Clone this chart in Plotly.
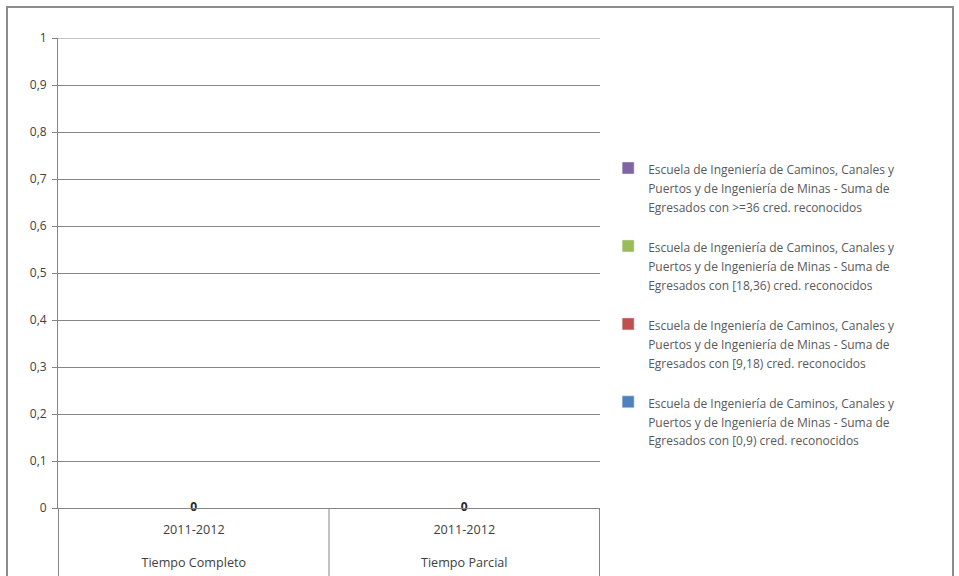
import plotly.graph_objects as go

# ---- data ----
period_labels = ["2011-2012", "2011-2012"]
regime_labels = ["Tiempo Completo", "Tiempo Parcial"]

series_names = [
    "Escuela de Ingeniería de Caminos, Canales y<br>Puertos y de Ingeniería de Minas - Suma de<br>Egresados con [0,9) cred. reconocidos",
    "Escuela de Ingeniería de Caminos, Canales y<br>Puertos y de Ingeniería de Minas - Suma de<br>Egresados con [9,18) cred. reconocidos",
    "Escuela de Ingeniería de Caminos, Canales y<br>Puertos y de Ingeniería de Minas - Suma de<br>Egresados con [18,36) cred. reconocidos",
    "Escuela de Ingeniería de Caminos, Canales y<br>Puertos y de Ingeniería de Minas - Suma de<br>Egresados con >=36 cred. reconocidos",
]
values_0_9 = [0, 0]
values_9_18 = [0, 0]
values_18_36 = [0, 0]
values_36_plus = [0, 0]
series_values = [values_0_9, values_9_18, values_18_36, values_36_plus]
series_colors = ["#4F81BD", "#C0504D", "#9BBB59", "#8064A2"]

totals = [sum(v) for v in zip(*series_values)]
categories = [f"{r} {p}" for r, p in zip(regime_labels, period_labels)]
tick_text = [f"{p}<br><br>{r}" for p, r in zip(period_labels, regime_labels)]

GRID = "#868686"
TEXT = "#404040"
FONT = "Open Sans"

fig = go.Figure()
n = len(series_names)
for i, (name, vals, col) in enumerate(zip(series_names, series_values, series_colors)):
    lines = name.split("<br>")
    styled = "<br>".join(f'<span style="font-size:12px">{l}</span>' for l in lines)
    fig.add_trace(go.Bar(
        x=categories, y=vals, name=styled, marker_color=col,
        legendgroup=f"g{i}", legendrank=n - i,
    ))

fig.add_trace(go.Scatter(
    x=categories, y=totals, mode="text", text=[f"<b>{t}</b>" for t in totals],
    textposition="middle center",
    textfont=dict(family=FONT, size=12, color="#262626"),
    showlegend=False, hoverinfo="skip", cliponaxis=False,
))

fig.update_layout(
    width=959, height=576,
    barmode="stack",
    separators=", ",
    paper_bgcolor="white", plot_bgcolor="white",
    margin=dict(l=58, r=359, t=38, b=68, autoexpand=False),
    font=dict(family=FONT, size=12, color=TEXT),
    showlegend=True,
    legend=dict(
        x=1.015, y=0.434, xanchor="left", yanchor="middle",
        traceorder="grouped", tracegroupgap=18, valign="top",
        font=dict(family=FONT, size=14.6, color="#595959"),
        itemwidth=30,
    ),
)

fig.update_yaxes(
    range=[0, 1], tick0=0, dtick=0.1, showgrid=True, gridcolor=GRID, gridwidth=1,
    showline=True, linecolor=GRID, linewidth=1,
    ticks="outside", ticklen=5, tickcolor=GRID, ticklabelstandoff=3,
    tickfont=dict(family=FONT, size=12, color=TEXT),
    zeroline=False, automargin=False,
)
fig.update_xaxes(
    type="category",
    tickvals=categories, ticktext=tick_text,
    showline=True, linecolor=GRID, linewidth=1,
    tickfont=dict(family=FONT, size=12.6, color=TEXT),
    ticks="", ticklabelstandoff=10, automargin=False,
)

# top gridline at the upper end of the value axis
fig.add_shape(type="line", xref="paper", yref="y", x0=0, x1=1, y0=1, y1=1,
              line=dict(color=GRID, width=1))

# category divider lines below the axis
for xpos in [-0.5, 0.5, 1.5]:
    fig.add_shape(type="line", xref="x", yref="paper",
                  x0=xpos, x1=xpos, y0=0, y1=-0.2,
                  line=dict(color=GRID, width=1))

# outer chart border
fig.add_shape(type="rect", xref="paper", yref="paper",
              x0=(7 - 58) / 542, x1=(953 - 58) / 542,
              y0=-0.2, y1=(508 - 7) / 470,
              line=dict(color="#8c8c8c", width=2), layer="below")

fig.write_html("out.html", config={"displayModeBar": False},
               post_script="document.body.style.margin='0';")
